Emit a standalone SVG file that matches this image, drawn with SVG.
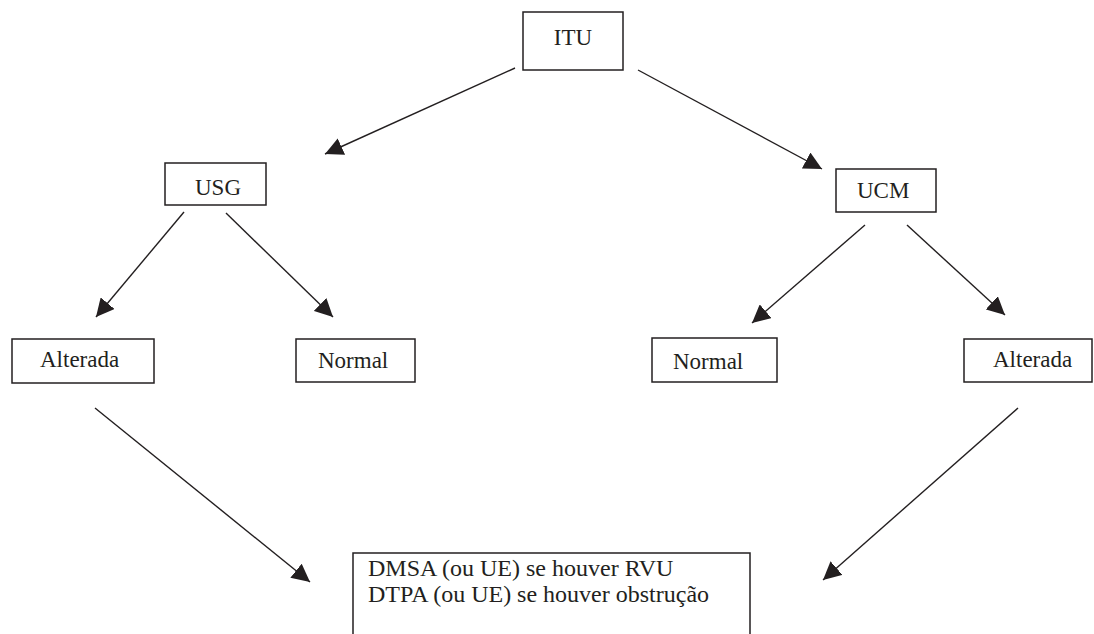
<svg xmlns="http://www.w3.org/2000/svg" width="1094" height="634" viewBox="0 0 1094 634">
<style>
.box{fill:#fff;stroke:#231f20;stroke-width:1.5}
.lbl{font-family:"Liberation Serif","Times New Roman",serif;font-size:23px;fill:#231f20}
.big{font-size:24px}
.con{stroke:#231f20;stroke-width:1.4;fill:none;marker-end:url(#ah)}
</style>
<defs>
<marker id="ah" markerUnits="userSpaceOnUse" markerWidth="20" markerHeight="18" refX="18" refY="9" orient="auto">
<polygon points="0,0 18,9 0,18" fill="#231f20"/>
</marker>
</defs>
<rect width="1094" height="634" fill="#fff"/>
<g id="connectors">
<line class="con" x1="515" y1="68" x2="325" y2="154"/>
<line class="con" x1="638" y1="70" x2="822" y2="169"/>
<line class="con" x1="184" y1="212" x2="96" y2="317"/>
<line class="con" x1="226" y1="213" x2="333" y2="317"/>
<line class="con" x1="865" y1="225" x2="752" y2="323"/>
<line class="con" x1="907" y1="225" x2="1005" y2="315"/>
<line class="con" x1="95" y1="408" x2="310" y2="582"/>
<line class="con" x1="1018" y1="408" x2="823" y2="580"/>
</g>
<g id="itu"><rect class="box" x="523" y="12" width="100" height="58"/><text class="lbl" x="573" y="45" text-anchor="middle">ITU</text></g>
<g id="usg"><rect class="box" x="165" y="163" width="101" height="42"/><text class="lbl" x="195" y="195">USG</text></g>
<g id="ucm"><rect class="box" x="836" y="169" width="100" height="43"/><text class="lbl" x="857" y="198">UCM</text></g>
<g id="alterada-left"><rect class="box" x="12" y="339" width="142" height="44"/><text class="lbl" x="40" y="367">Alterada</text></g>
<g id="normal-left"><rect class="box" x="296" y="339" width="119" height="43"/><text class="lbl" x="318" y="368">Normal</text></g>
<g id="normal-right"><rect class="box" x="652" y="338" width="125" height="44"/><text class="lbl" x="673" y="369">Normal</text></g>
<g id="alterada-right"><rect class="box" x="964" y="339" width="128" height="43"/><text class="lbl" x="993" y="367">Alterada</text></g>
<g id="result"><rect class="box" x="353" y="553" width="397" height="90"/>
<text class="lbl big" x="368" y="576">DMSA (ou UE) se houver RVU</text>
<text class="lbl big" x="368" y="602">DTPA (ou UE) se houver obstrução</text></g>
</svg>
